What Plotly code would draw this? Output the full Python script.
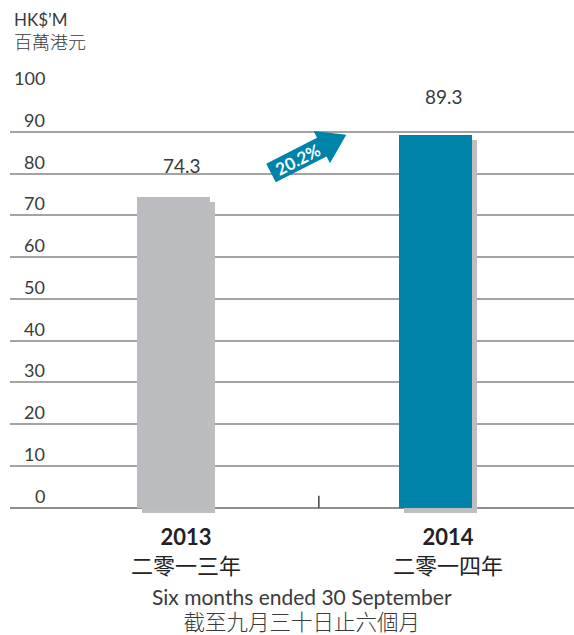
import math
import plotly.graph_objects as go

# ---------------- data ----------------
years = ["2013", "2014"]
years_zh = ["二零一三年", "二零一四年"]
revenue = [74.3, 89.3]
value_labels = ["74.3", "89.3"]
growth_label = "20.2%"
y_ticks = [0, 10, 20, 30, 40, 50, 60, 70, 80, 90, 100]
y_tick_labels = ["0", "10", "20", "30", "40", "50", "60", "70", "80", "90", "100"]
unit_en = "HK$’M"
unit_zh = "百萬港元"
period_en = "Six months ended 30 September"
period_zh = "截至九月三十日止六個月"

# ---------------- style ----------------
bar_colors = ["#BBBCBF", "#0083A9"]
shadow_color = "#BDBEC0"
arrow_color = "#0083A9"
text_color = "#3A3A3A"
grid_color = "#A3A3A3"
FONT = "Lato, 'Noto Sans CJK TC', sans-serif"
FONT_ZH = "'Noto Sans CJK TC', Lato, sans-serif"

W, H = 574, 635
L, R, T, B = 10, 0, 90, 119
plot_w = W - L - R
plot_h = H - T - B
y_range = [-2, 100]
x_range = [-0.624, 1.529]
px_per_x = plot_w / (x_range[1] - x_range[0])
px_per_y = plot_h / (y_range[1] - y_range[0])
bar_w = 73 / px_per_x
sh_dx = 5 / px_per_x
sh_dy = 5 / px_per_y


def to_paper(px, py):
    return (px - L) / plot_w, (H - B - py) / plot_h


fig = go.Figure()

# shadows
fig.add_trace(go.Bar(
    x=years, y=revenue, base=-sh_dy, width=bar_w, offset=-bar_w / 2 + sh_dx,
    marker=dict(color=shadow_color, line=dict(width=0)), hoverinfo="skip",
    showlegend=False,
))
# bars
fig.add_trace(go.Bar(
    x=years, y=revenue, width=bar_w, offset=-bar_w / 2,
    marker=dict(color=bar_colors, line=dict(width=0)), showlegend=False,
))

annotations = []
# y tick labels above gridlines
for v, lab in zip(y_ticks, y_tick_labels):
    annotations.append(dict(
        xref="paper", yref="y", x=(47 - L) / plot_w, y=v, xanchor="right",
        yanchor="middle", yshift=12, text=lab, showarrow=False,
        font=dict(family=FONT, size=18, color=text_color)))

# value labels
lifts = [32, 38]
for i, (v, lab, lift) in enumerate(zip(revenue, value_labels, lifts)):
    annotations.append(dict(
        xref="x", yref="y", x=i, y=v, xshift=9, yshift=lift, xanchor="center",
        yanchor="middle", text=lab, showarrow=False,
        font=dict(family=FONT, size=19, color=text_color)))

# category labels (two lines in one block)
for i, (yr, zh) in enumerate(zip(years, years_zh)):
    txt = ("<b>%s</b><br><span style=\"font-family:'Noto Sans CJK TC'\">%s</span>"
           % (yr, zh))
    annotations.append(dict(
        xref="x", yref="paper", x=i, y=to_paper(0, 551)[1], xshift=13,
        xanchor="center", yanchor="middle", text=txt, showarrow=False,
        font=dict(family=FONT, size=22, color="#222222")))
    # size tweak handled by span-free base size

# period text (two lines in one block)
px_c, _ = to_paper(302, 0)
period_txt = ("<span style=\"font-size:21px\">%s</span><br>"
              "<span style=\"font-size:21.5px;font-family:'Noto Sans CJK TC';font-weight:300\">%s</span>"
              % (period_en, period_zh))
annotations.append(dict(
    xref="paper", yref="paper", x=px_c, y=to_paper(0, 609.5)[1], xanchor="center",
    yanchor="middle", text=period_txt, showarrow=False,
    font=dict(family=FONT, size=19, color=text_color)))

# unit labels (two lines in one block)
unit_txt = ("<span style=\"font-size:17px\">%s</span><br>"
            "<span style=\"font-size:18px;font-family:'Noto Sans CJK TC';font-weight:300\">%s</span>"
            % (unit_en, unit_zh))
annotations.append(dict(
    xref="paper", yref="paper", x=to_paper(12, 0)[0], y=to_paper(0, 31)[1],
    xanchor="left", yanchor="middle", text=unit_txt, showarrow=False, align="left",
    font=dict(family=FONT, size=18, color=text_color)))

# growth arrow (decorative block arrow)
ang = math.radians(27)
ux, uy = math.cos(ang), -math.sin(ang)
nx, ny = math.sin(ang), math.cos(ang)
c0x, c0y = 271, 173
shaft_len, total_len, half_w, head_hw = 57, 84.5, 10.5, 18


def pt(a, n):
    return to_paper(c0x + a * ux + n * nx, c0y + a * uy + n * ny)


pts = [pt(0, -half_w), pt(shaft_len, -half_w), pt(shaft_len, -head_hw),
       pt(total_len, 0), pt(shaft_len, head_hw), pt(shaft_len, half_w),
       pt(0, half_w)]
path = "M " + " L ".join("%.5f,%.5f" % p for p in pts) + " Z"
shapes = [dict(type="path", xref="paper", yref="paper", path=path,
               fillcolor=arrow_color, line=dict(width=0), layer="above")]
tx, ty = pt(30, 0)
annotations.append(dict(
    xref="paper", yref="paper", x=tx, y=ty, xanchor="center", yanchor="middle",
    text="<b>%s</b>" % growth_label, textangle=-27, showarrow=False,
    font=dict(family=FONT, size=17, color="white")))

# small divider tick on baseline
shapes.append(dict(type="line", xref="x", yref="y", x0=0.555, x1=0.555,
                   y0=0, y1=12 / px_per_y, line=dict(color="#444444", width=1.5)))

fig.update_layout(
    width=W, height=H,
    margin=dict(l=L, r=R, t=T, b=B),
    paper_bgcolor="white", plot_bgcolor="white",
    barmode="overlay", bargap=0,
    xaxis=dict(type="category", range=x_range, showticklabels=False, showgrid=False,
               zeroline=False, ticks="", showline=False, fixedrange=True),
    yaxis=dict(range=y_range, tickvals=y_ticks, showticklabels=False,
               showgrid=True, gridcolor=grid_color, gridwidth=1.5,
               zeroline=True, zerolinecolor="#8E8E8E", zerolinewidth=2,
               showline=False, ticks="", fixedrange=True),
    annotations=annotations,
    shapes=shapes,
    showlegend=False,
)

fig.write_html("out.html", config={"displayModeBar": False},
               post_script="document.body.style.margin='0';document.body.style.padding='0';")
